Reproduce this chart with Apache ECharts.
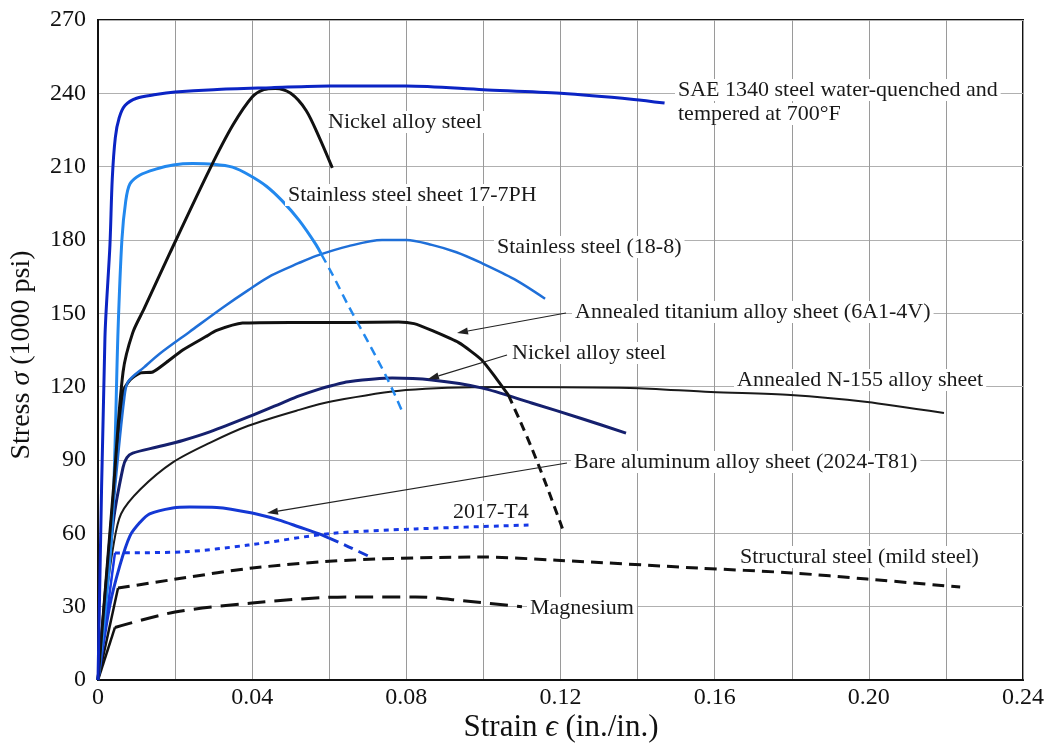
<!DOCTYPE html>
<html>
<head>
<meta charset="utf-8">
<script src="https://cdn.jsdelivr.net/npm/echarts@6/dist/echarts.min.js"></script>
<style>html,body{margin:0;padding:0;background:#fff;}#chart{width:1047px;height:745px;}</style>
</head>
<body>
<div id="chart"></div>
<script>
// ---- data (strain in./in., stress 1000 psi) ----
const sae1340 = [[0,0],[0.0018,140],[0.0031,178],[0.0037,205],[0.0045,222],[0.0055,230],[0.007,235],[0.01,238],[0.015,239.5],[0.02,240.5],[0.03,241.5],[0.045,242.3],[0.06,243],[0.08,243],[0.1,241.5],[0.12,240],[0.139,237.5],[0.147,236]];
const nickelTop = [[0,0],[0.004,78],[0.0065,126],[0.009,142],[0.012,152],[0.0186,174.5],[0.029,209],[0.035,227],[0.04,238.5],[0.043,241.5],[0.046,242],[0.05,240],[0.054,233],[0.0574,222],[0.0608,209.5]];
const ss177Solid = [[0,0],[0.0036,61],[0.0052,143],[0.0062,180],[0.0072,196],[0.0083,203],[0.0109,206.6],[0.015,209],[0.0195,210.7],[0.0246,211.3],[0.03,211],[0.0349,209.8],[0.0393,206.5],[0.0437,202],[0.0478,196],[0.0522,188],[0.0566,178],[0.058,174]];
const ss177Dash = [[0.058,174],[0.0608,166],[0.065,153],[0.07,138.5],[0.075,123.5],[0.0789,110]];
const ss188 = [[0,0],[0.0045,80],[0.0068,115],[0.0078,122],[0.012,128],[0.016,133.5],[0.0238,142.5],[0.0325,152.5],[0.039,159.5],[0.045,165.5],[0.052,170.5],[0.0566,173.5],[0.065,177.5],[0.0737,180],[0.08,180],[0.0866,178],[0.093,175],[0.0995,170.6],[0.108,164],[0.116,156]];
const titanium = [[0,0],[0.004,75],[0.0065,118],[0.0083,122.7],[0.0109,125.6],[0.0142,126],[0.0178,130],[0.022,135],[0.028,140.5],[0.0308,143],[0.0375,146],[0.05,146.3],[0.065,146.3],[0.078,146.5],[0.082,145.8],[0.0866,143],[0.0936,138],[0.0995,131],[0.1035,123],[0.1065,116.5]];
const titaniumDash = [[0.1065,116.5],[0.1095,106],[0.1125,95],[0.1165,79],[0.1205,62]];
const nickelLow = [[0,0],[0.004,65],[0.0065,87],[0.0075,91],[0.009,92.8],[0.0153,95.3],[0.022,98],[0.029,101.5],[0.039,107.6],[0.048,113.5],[0.0522,116.2],[0.0574,119],[0.0608,120.5],[0.065,122],[0.0763,123.5],[0.0866,122.7],[0.0995,119.5],[0.1125,113.3],[0.1254,107],[0.137,101]];
const n155 = [[0,0],[0.002,32],[0.004,55],[0.006,68],[0.011,78],[0.0194,89],[0.029,97],[0.039,104],[0.0522,110.5],[0.0608,114],[0.0799,118.6],[0.104,119.9],[0.138,119.5],[0.159,117.8],[0.1797,116.6],[0.1996,113.7],[0.2195,109.2]];
const bareAlSolid = [[0,0],[0.003,30],[0.0057,47],[0.0083,59],[0.0109,64.5],[0.0134,68],[0.0194,70.4],[0.0238,70.8],[0.0308,70.6],[0.04,68.3],[0.0468,65.5],[0.0522,62.6],[0.0582,59.3],[0.06,58]];
const bareAlDash = [[0.06,58],[0.065,54.5],[0.0711,50]];
const t2017Elastic = [[0,0],[0.0044,52]];
const t2017 = [[0.0044,52],[0.022,52.4],[0.039,55.2],[0.0608,60],[0.0824,61.8],[0.1117,63.4]];
const structElastic = [[0,0],[0.0052,37.6]];
const structural = [[0.0052,37.6],[0.022,41.7],[0.04,45.8],[0.065,49],[0.0995,50.3],[0.119,49],[0.1557,45.8],[0.18,43.8],[0.1996,41.3],[0.2237,38]];
const magElastic = [[0,0],[0.0044,21.5]];
const magnesium = [[0.0044,21.5],[0.02,27.8],[0.04,31.5],[0.065,34],[0.0824,34],[0.0954,32.3],[0.11,30]];
const xTicks = [0, 0.04, 0.08, 0.12, 0.16, 0.20, 0.24];

const FONT = "'Liberation Serif','Times New Roman',serif";
const chart = echarts.init(document.getElementById('chart'));

function ln(name, data, color, width, type, smooth) {
  return {
    name, type: 'line', data, showSymbol: false, symbol: 'none',
    smooth: smooth === undefined ? 0.3 : smooth,
    lineStyle: { color, width, type: type || 'solid', cap: 'butt', join: 'round' },
    animation: false, silent: true, z: 3
  };
}

function arrow(x1, y1, x2, y2) {
  const a = Math.atan2(y2 - y1, x2 - x1), L = 11, W = 3.5;
  const bx = x2 - L * Math.cos(a), by = y2 - L * Math.sin(a);
  const px = -Math.sin(a), py = Math.cos(a);
  return [
    { type: 'line', shape: { x1, y1, x2: bx, y2: by }, style: { stroke: '#222', lineWidth: 1.2 }, z: 10 },
    { type: 'polygon', shape: { points: [[x2, y2], [bx + W * px, by + W * py], [bx - W * px, by - W * py]] }, style: { fill: '#222' }, z: 10 }
  ];
}

function label(text, x, y) {
  return { type: 'text', x, y, z: 5, style: { text, font: '22px ' + FONT, fill: '#1a1a1a', align: 'left', verticalAlign: 'middle', backgroundColor: '#fff', padding: [0, 3] } };
}

const graphics = [
  label('SAE 1340 steel water-quenched and', 675, 90),
  label('tempered at 700°F', 675, 114),
  label('Nickel alloy steel', 325, 122),
  label('Stainless steel sheet 17-7PH', 285, 195),
  label('Stainless steel (18-8)', 494, 247),
  label('Annealed titanium alloy sheet (6A1-4V)', 572, 312),
  label('Nickel alloy steel', 509, 353),
  label('Annealed N-155 alloy sheet', 734, 380),
  label('Bare aluminum alloy sheet (2024-T81)', 571, 462),
  label('2017-T4', 450, 512),
  label('Structural steel (mild steel)', 737, 557),
  label('Magnesium', 527, 608),
  ...arrow(566, 313, 457, 333),
  ...arrow(507, 355, 428, 379),
  ...arrow(567, 463, 267, 513),
  { type: 'text', x: 22, y: 355, rotation: Math.PI / 2, z: 5,
    style: { text: 'Stress {i|σ} (1000 psi)', font: '28px ' + FONT, fill: '#111', align: 'center', verticalAlign: 'middle',
      rich: { i: { fontStyle: 'italic', font: 'italic 28px ' + FONT, fill: '#111' } } } },
  { type: 'text', x: 561, y: 728, z: 5,
    style: { text: 'Strain {i|ϵ} (in./in.)', font: '31px ' + FONT, fill: '#111', align: 'center', verticalAlign: 'middle',
      rich: { i: { font: 'italic 31px ' + FONT, fill: '#111' } } } }
];

const option = {
  backgroundColor: '#fff',
  animation: false,
  grid: { left: 98, right: 23, top: 20, bottom: 65, show: true, borderColor: '#111', borderWidth: 2, backgroundColor: 'transparent' },
  xAxis: {
    type: 'value', min: 0, max: 0.24, interval: 0.02,
    axisLine: { lineStyle: { color: '#111', width: 2 } },
    axisTick: { show: false },
    splitLine: { show: true, lineStyle: { color: '#9a9a9a', width: 1 } },
    axisLabel: {
      color: '#111', fontFamily: FONT, fontSize: 24, margin: 6,
      formatter: v => {
        const t = xTicks.find(k => Math.abs(k - v) < 1e-6);
        if (t === undefined) return '';
        return t === 0 ? '0' : t.toFixed(2);
      }
    }
  },
  yAxis: {
    type: 'value', min: 0, max: 270, interval: 30,
    axisLine: { show: true, lineStyle: { color: '#111', width: 2 } },
    axisTick: { show: false },
    splitLine: { show: true, lineStyle: { color: '#b0b0b0', width: 1 } },
    axisLabel: { color: '#111', fontFamily: FONT, fontSize: 24, margin: 12 }
  },
  series: [
    ln('Structural elastic', structElastic, '#111', 2.5),
    ln('Structural steel (mild steel)', structural, '#111', 3, [12, 7]),
    ln('Magnesium elastic', magElastic, '#111', 2.5),
    ln('Magnesium', magnesium, '#111', 3, [18, 9]),
    ln('2017-T4 elastic', t2017Elastic, '#1638e6', 2.5),
    ln('2017-T4', t2017, '#1638e6', 3, [5, 5]),
    ln('Bare aluminum alloy sheet (2024-T81)', bareAlSolid, '#1438d4', 3),
    ln('Bare aluminum dashed', bareAlDash, '#1438d4', 3, [10, 6]),
    ln('Annealed N-155 alloy sheet', n155, '#1a1a1a', 2),
    ln('Nickel alloy steel (2)', nickelLow, '#15206e', 3),
    ln('Annealed titanium alloy sheet (6A1-4V)', titanium, '#111', 3, 'solid', 0.2),
    ln('Titanium dashed', titaniumDash, '#111', 3, [9, 6]),
    ln('Stainless steel (18-8)', ss188, '#1f6fd8', 2.5),
    ln('Stainless steel sheet 17-7PH', ss177Solid, '#2288ee', 3),
    ln('17-7PH dashed', ss177Dash, '#2288ee', 2.5, [9, 6]),
    ln('Nickel alloy steel', nickelTop, '#111', 3),
    ln('SAE 1340 steel', sae1340, '#0b24c4', 3)
  ],
  graphic: graphics
};
chart.setOption(option);
</script>
</body>
</html>
